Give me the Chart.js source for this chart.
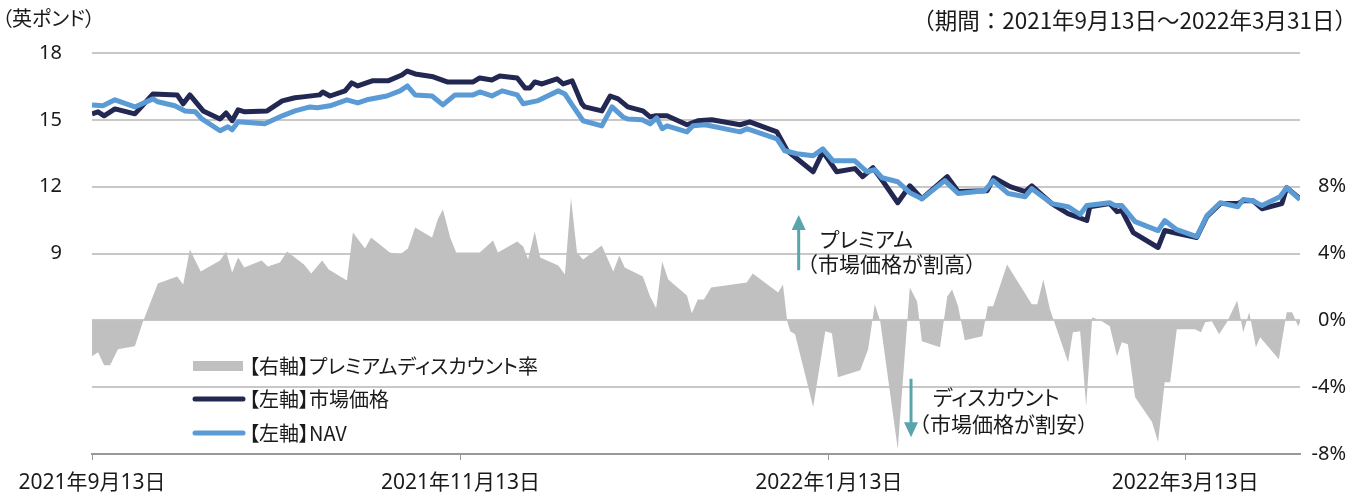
<!DOCTYPE html>
<html lang="ja">
<head>
<meta charset="utf-8">
<script src="https://cdn.jsdelivr.net/npm/chart.js@4.4.1/dist/chart.umd.min.js"></script>
<style>
  html, body { margin: 0; padding: 0; background: #fff; }
  #wrap { position: relative; width: 1359px; height: 496px; }
  .lbl {
    position: absolute;
    font-family: "Noto Sans CJK JP", sans-serif;
    font-feature-settings: "palt";
    line-height: 1;
    white-space: nowrap;
    color: #1a1a1a;
    transform: translateY(-50%);
  }
  .full { font-feature-settings: normal; }
</style>
</head>
<body>
<div id="wrap">
  <canvas id="chart" width="1359" height="496"></canvas>
  <div class="lbl" style="left:2px; top:18px; font-size:20px;">（英ポンド）</div>
  <div class="lbl full" style="right:2px; top:19px; font-size:22.5px;">（期間：2021年9月13日～2022年3月31日）</div>
  <div class="lbl" style="left:820px; top:238px; font-size:21px;">プレミアム</div>
  <div class="lbl full" style="left:797px; top:263px; font-size:21px;">（市場価格が割高）</div>
  <div class="lbl" style="left:933px; top:396px; font-size:21px;">ディスカウント</div>
  <div class="lbl full" style="left:909px; top:423px; font-size:21px;">（市場価格が割安）</div>
  <div id="legend"></div>
</div>
<script>
// 日付は 2021年9月13日 からの経過日数
const tickDays = [0, 61, 122, 181];
const tickLabels = ['2021年9月13日', '2021年11月13日', '2022年1月13日', '2022年3月13日'];

// 【左軸】市場価格（英ポンド）
const marketDays = [0, 1, 2, 3.8, 7.1, 10.1, 14.1, 15.1, 16.2, 18.4, 21.2, 22.2, 23.2, 24.2, 25.3, 29, 31.5, 33.6,
  34.9, 37.7, 38.2, 39.4, 41.9, 43, 44, 46.4, 49, 51.3, 52.2, 53.5, 56.5, 58.8, 63.1, 64.2, 66.2, 67.5,
  70.4, 71.7, 72.5, 73.3, 74.5, 77, 78, 79.5, 81.1, 81.6, 84.4, 85.8, 87.1, 88.7, 91.2, 92.4, 93.2, 95.2,
  98.5, 100.3, 102.6, 107.3, 108.9, 113.4, 115.1, 119.4, 121, 123.3, 126.3, 127.6, 129.3, 131, 133.4, 135.4,
  137.4, 141.6, 143.4, 148.2, 149.3, 152, 154.5, 155.6, 158.9, 161.6, 164.7, 165.2, 168.5, 169.7, 170.5,
  172.4, 176.5, 177.6, 179.8, 182.9, 184.6, 186.8, 189.7, 190.6, 192.2, 193.7, 197, 197.8, 200];
const marketPrice = [15.27, 15.36, 15.18, 15.49, 15.27, 16.16, 16.12, 15.72, 16.12, 15.40, 15.04, 15.31, 14.96, 15.45, 15.36, 15.40, 15.85, 15.99,
  16.03, 16.12, 16.25, 16.07, 16.30, 16.66, 16.52, 16.75, 16.75, 17.01, 17.19, 17.06, 16.93, 16.70, 16.70, 16.88, 16.79, 16.97,
  16.88, 16.43, 16.43, 16.70, 16.61, 16.84, 16.61, 16.75, 15.72, 15.58, 15.40, 16.07, 15.94, 15.58, 15.40, 15.13, 15.18, 15.18,
  14.78, 14.96, 15.00, 14.78, 14.91, 14.46, 13.61, 12.67, 13.57, 12.67, 12.81, 12.45, 12.85, 12.22, 11.28, 12.04,
  11.46, 12.45, 11.78, 11.82, 12.40, 12.00, 11.78, 12.04, 11.24, 10.79, 10.48, 11.10, 11.24, 10.88, 10.93,
  9.94, 9.27, 10.03, 9.90, 9.72, 10.66, 11.24, 11.24, 11.37, 11.37, 11.01, 11.24, 11.96, 11.46];

// 【左軸】NAV（英ポンド）
const navDays = [0, 1.8, 3.8, 7.1, 10.1, 10.9, 13.7, 15.4, 17.1, 18.2, 21.2, 22.5, 23.2, 24.2, 28.6, 31.5, 33.6, 36.1,
  37.3, 39.4, 42.2, 44, 45.5, 48.8, 51, 52.2, 53.5, 56.3, 58.1, 60.1, 63.1, 64.2, 66.2, 67.9, 70.4, 71.4,
  73.7, 77.2, 78.3, 79.6, 81.3, 84.4, 86.1, 87.9, 88.7, 91.1, 92.4, 93.5, 94.4, 95.2, 98.5, 99.5, 101.5,
  107.3, 108.4, 113.4, 114.7, 116.7, 119.4, 121, 122.7, 126.3, 128.3, 129.6, 130.8, 133.4, 135.4, 137.4,
  141.2, 143.4, 147.8, 149.2, 151.7, 154.5, 155.6, 158.9, 161.6, 163.6, 164.7, 168.5, 169.4, 170.5, 172.7,
  176.5, 177.6, 179.6, 182.9, 184.6, 186.8, 189.7, 190.6, 192.2, 193.7, 196.7, 197.8, 200];
const navValue = [15.67, 15.63, 15.90, 15.58, 15.94, 15.81, 15.63, 15.40, 15.36, 15.04, 14.51, 14.69, 14.55, 14.91, 14.82, 15.18, 15.40, 15.58,
  15.54, 15.63, 15.90, 15.76, 15.90, 16.07, 16.30, 16.52, 16.12, 16.07, 15.67, 16.12, 16.12, 16.25, 16.07, 16.30, 16.12, 15.72,
  15.85, 16.30, 16.16, 15.63, 14.96, 14.73, 15.58, 15.13, 15.04, 15.00, 14.82, 15.09, 14.60, 14.73, 14.46, 14.73, 14.78,
  14.46, 14.60, 14.15, 13.61, 13.48, 13.39, 13.70, 13.16, 13.16, 12.67, 12.76, 12.40, 12.22, 11.73, 11.46,
  12.27, 11.69, 11.82, 12.27, 11.69, 11.55, 11.91, 11.24, 11.10, 10.75, 11.15, 11.28, 11.15, 11.15, 10.43,
  10.03, 10.48, 10.07, 9.76, 10.70, 11.28, 11.10, 11.42, 11.37, 11.15, 11.55, 11.96, 11.42];

// 【右軸】プレミアムディスカウント率（%）
const premDays = [0, 1, 2, 3, 4.3, 7.1, 8.4, 10.9, 14.1, 15.1, 16.2, 18, 21.2, 22.2, 23.2, 24.2, 25.2, 28.1, 29.1,
  31.1, 32.3, 35.1, 36.3, 38.1, 39.2, 42.2, 43.2, 45.2, 46.2, 49.3, 51, 52.3, 53.5, 56.3, 57.3, 58.1, 59.3,
  60.3, 64.2, 66.4, 67.2, 70.4, 71.4, 72.2, 73.3, 74.2, 77.2, 78.3, 79.3, 80.3, 81.3, 84.4, 86.3, 87.3, 88.2,
  91.2, 92.4, 93.4, 94.4, 95.4, 98.5, 99.3, 100.3, 101.3, 102.5, 108.4, 109.4, 113.6, 114.4, 115.1, 115.6,
  116.4, 119.4, 121.4, 122.5, 123.5, 127.2, 128.5, 129.6, 130.5, 133.4, 135.4, 136.6, 137.4, 140.4, 141.6,
  142.4, 143.4, 144.5, 147.4, 148.3, 149.2, 151.5, 155.6, 156.5, 157.5, 158.6, 161.6, 162.4, 163.6, 164.6,
  165.6, 167.2, 168.5, 169.7, 170.5, 171.5, 172.7, 175.5, 176.5, 177.6, 178.5, 179.6, 182.6, 183.6, 184.3,
  185.4, 186.6, 187.9, 189.6, 190.6, 191.6, 192.7, 193.4, 196.5, 197.8, 198.7, 199.7, 200];
const premRate = [-2.15, -1.91, -2.69, -2.69, -1.73, -1.55, -0.12, 2.21, 2.63, 2.15, 4.24, 2.93, 3.58, 4.12, 2.87, 3.76, 3.16, 3.58, 3.22,
  3.46, 4.12, 3.34, 2.81, 3.58, 3.04, 2.39, 5.25, 4.30, 4.96, 4.06, 3.94, 4.30, 5.55, 4.96, 6.09, 6.63, 4.96,
  4.06, 4.06, 4.78, 4.06, 4.72, 4.42, 3.64, 5.31, 3.76, 3.28, 2.75, 7.34, 4.06, 3.64, 4.48, 2.93, 3.88, 3.16,
  2.63, 1.43, 0.72, 3.52, 2.45, 1.49, 0.42, 1.25, 1.25, 1.97, 2.27, 2.81, 1.67, 2.15, -0.06, -0.66,
  -0.84, -5.19, -0.66, -0.78, -3.40, -2.99, -1.73, 0.96, -0.06, -7.70, 1.97, 1.13, -1.25, -1.61, 1.43,
  1.85, 0.84, -1.19, -0.96, 0.84, 0.84, 3.34, 0.96, 0.96, 2.45, 0.66, -2.51, -0.72, -0.66, -5.13,
  0.18, -0.06, -0.36, -2.15, -1.31, -1.43, -4.60, -6.09, -7.28, -3.70, -3.70, -0.54, -0.54, -0.72, -0.12,
  -0.06, -0.84, -0.12, 1.19, -0.72, 0.48, -1.61, -1.01, -2.33, 0.48, 0.48, -0.36, -0.12];

const toPoints = (xs, ys) => xs.map((x, i) => ({ x: x, y: ys[i] }));

const FONT = '"Noto Sans", "Noto Sans CJK JP", sans-serif';
const TEXT = '#1a1a1a';
const NAVY = '#222851';
const BLUE = '#5b9bd5';
const GRAY = '#c0c0c0';
const TEAL = '#5aa4ab';

Chart.defaults.font.family = FONT;
Chart.defaults.font.size = 20;
Chart.defaults.color = TEXT;

// 凡例の行（上から）
const legendRows = [
  { ds: 2, y: 366 },
  { ds: 1, y: 399 },
  { ds: 0, y: 433 }
];

// 注記の矢印と凡例マーカーを描くプラグイン
const decor = {
  id: 'decor',
  afterDraw(chart) {
    const c = chart.ctx;
    const x = chart.scales.x, yR = chart.scales.yR;
    c.save();

    const arrow = (day, from, to) => {
      const px = x.getPixelForValue(day);
      const y1 = yR.getPixelForValue(from), y2 = yR.getPixelForValue(to);
      const dir = y2 < y1 ? -1 : 1;
      c.strokeStyle = TEAL; c.fillStyle = TEAL; c.lineWidth = 3;
      c.beginPath(); c.moveTo(px, y1); c.lineTo(px, y2 - dir * 14); c.stroke();
      c.beginPath(); c.moveTo(px, y2); c.lineTo(px - 7, y2 - dir * 15); c.lineTo(px + 7, y2 - dir * 15); c.closePath(); c.fill();
    };
    arrow(117, 3.0, 6.3);
    arrow(135.6, -3.5, -7.0);

    legendRows.forEach(r => {
      const ds = chart.data.datasets[r.ds];
      if (ds.fill) {
        c.fillStyle = ds.backgroundColor;
        c.fillRect(193, r.y - 5, 50, 10);
      } else {
        c.strokeStyle = ds.borderColor; c.lineWidth = 5; c.lineCap = 'round';
        c.beginPath(); c.moveTo(195, r.y); c.lineTo(243, r.y); c.stroke();
      }
    });
    c.restore();
  }
};

const chart = new Chart(document.getElementById('chart'), {
  type: 'line',
  data: {
    datasets: [
      {
        label: '【左軸】NAV',
        data: toPoints(navDays, navValue),
        yAxisID: 'yL',
        borderColor: BLUE,
        borderWidth: 5,
        pointRadius: 0,
        tension: 0,
        borderJoinStyle: 'round'
      },
      {
        label: '【左軸】市場価格',
        data: toPoints(marketDays, marketPrice),
        yAxisID: 'yL',
        borderColor: NAVY,
        borderWidth: 5,
        pointRadius: 0,
        tension: 0,
        borderJoinStyle: 'round'
      },
      {
        label: '【右軸】プレミアムディスカウント率',
        data: toPoints(premDays, premRate),
        yAxisID: 'yR',
        borderWidth: 0,
        borderColor: GRAY,
        backgroundColor: GRAY,
        fill: 'origin',
        pointRadius: 0,
        tension: 0
      }
    ]
  },
  options: {
    responsive: false,
    animation: false,
    events: [],
    layout: { padding: { top: 53, left: 0, right: 13, bottom: 0 } },
    plugins: { legend: { display: false }, tooltip: { enabled: false } },
    scales: {
      x: {
        type: 'linear',
        min: 0,
        max: 200,
        afterBuildTicks: s => { s.ticks = tickDays.map(v => ({ value: v })); },
        afterFit: s => { s.height = 40; },
        ticks: {
          autoSkip: false,
          maxRotation: 0,
          padding: 10,
          font: { size: 21 },
          callback: (v, i) => tickLabels[i]
        },
        grid: { drawOnChartArea: false, drawTicks: true, tickLength: 6, color: '#999' },
        border: { color: '#999', width: 2 }
      },
      yL: {
        position: 'left',
        min: 0,
        max: 18,
        afterFit: s => { s.width = 92; },
        ticks: {
          stepSize: 3,
          padding: 30,
          callback: v => (v >= 9 ? v : '')
        },
        grid: { color: '#c8c8c8', lineWidth: 2, drawTicks: false },
        border: { display: false }
      },
      yR: {
        position: 'right',
        min: -8,
        max: 16,
        afterFit: s => { s.width = 46; },
        ticks: {
          stepSize: 4,
          padding: 1,
          crossAlign: 'far',
          callback: v => (v <= 8 ? v + '%' : '')
        },
        grid: { display: false, drawTicks: false },
        border: { display: false }
      }
    }
  },
  plugins: [decor]
});

// 凡例テキストはデータセットのラベルから作る
const legendBox = document.getElementById('legend');
legendRows.forEach(r => {
  const d = document.createElement('div');
  d.className = 'lbl';
  d.style.left = '249px';
  d.style.top = r.y + 'px';
  d.style.fontSize = '20px';
  d.textContent = chart.data.datasets[r.ds].label;
  legendBox.appendChild(d);
});
</script>
</body>
</html>
